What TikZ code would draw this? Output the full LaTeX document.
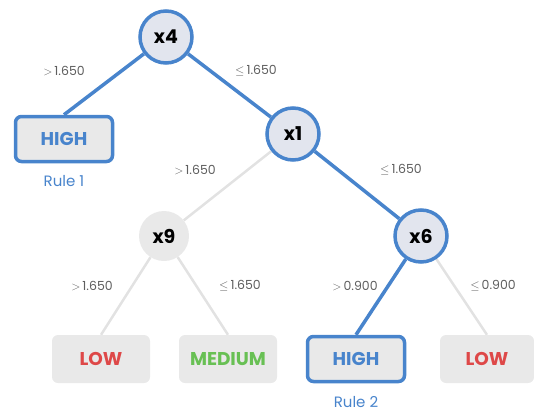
\documentclass[tikz,border=0pt]{standalone}
\usepackage{fontspec}
\setmainfont{Poppins}
\usepackage{tikz}
\usetikzlibrary{backgrounds}
\definecolor{ruleblue}{RGB}{72, 132, 204}
\definecolor{nodefill}{RGB}{226, 229, 238}
\definecolor{leaffill}{RGB}{233, 233, 233}
\definecolor{edgegray}{RGB}{226, 226, 226}
\definecolor{lowred}{RGB}{222, 72, 72}
\definecolor{midgreen}{RGB}{104, 192, 84}
\definecolor{labelgray}{RGB}{95, 95, 95}

\begin{document}
\begin{tikzpicture}[x=1pt, y=-1pt,
    split/.style={circle, minimum size=52pt, inner sep=0pt, fill=nodefill,
      draw=ruleblue, line width=3.5pt, font=\fontsize{19}{19}\selectfont\bfseries},
    idle/.style={circle, minimum size=50pt, inner sep=0pt, fill=leaffill,
      font=\fontsize{19}{19}\selectfont\bfseries},
    leaf/.style={rectangle, rounded corners=6pt, minimum width=98pt, minimum height=48pt,
      inner sep=0pt, fill=leaffill, font=\fontsize{18.5}{19}\selectfont\bfseries},
    rulebox/.style={leaf, minimum width=97pt, minimum height=45pt,
      draw=ruleblue, line width=3.5pt},
    path/.style={ruleblue, line width=3.5pt},
    dead/.style={edgegray, line width=2.5pt},
    cond/.style={labelgray, font=\fontsize{12.5}{13}\selectfont},
    rulename/.style={ruleblue, font=\fontsize{15}{15}\selectfont}]
  \useasboundingbox (0, 0) rectangle (534, 412);

  % split nodes
  \node[split] (x4) at (166, 37) {x4};
  \node[split] (x1) at (293, 134) {x1};
  \node[idle] (x9) at (164, 236) {x9};
  \node[split] (x6) at (421, 236) {x6};

  % leaves
  \node[rulebox, text=ruleblue] (high1) at (64, 139) {HIGH};
  \node[leaf, text=lowred] (low1) at (101, 359) {LOW};
  \node[leaf, text=midgreen] (medium) at (228, 359) {MEDIUM};
  \node[rulebox, text=ruleblue] (high2) at (356, 359) {HIGH};
  \node[leaf, minimum width=94pt, text=lowred] (low2) at (487, 359) {LOW};

  \node[rulename] (rule1) at (64, 181) {Rule 1};
  \node[rulename] (rule2) at (356, 402) {Rule 2};

  % branches
  \begin{scope}[on background layer]
    \draw[path] (x4) -- (high1.north);
    \draw[path] (x4) -- (x1);
    \draw[dead] (x1) -- (x9);
    \draw[path] (x1) -- (x6);
    \draw[dead] (x9) -- (low1.north);
    \draw[dead] (x9) -- (medium.north);
    \draw[path] (x6) -- (high2.north);
    \draw[dead] (x6) -- (low2.north);
  \end{scope}

  \node[cond] at (64, 71) {$>$\,1.650};
  \node[cond] at (256, 71) {$\leq$\,1.650};
  \node[cond] at (195, 170) {$>$\,1.650};
  \node[cond] at (401, 170) {$\leq$\,1.650};
  \node[cond] at (92, 286) {$>$\,1.650};
  \node[cond] at (240, 286) {$\leq$\,1.650};
  \node[cond] at (355, 286) {$>$\,0.900};
  \node[cond] at (493, 286) {$\leq$\,0.900};
\end{tikzpicture}
\end{document}
